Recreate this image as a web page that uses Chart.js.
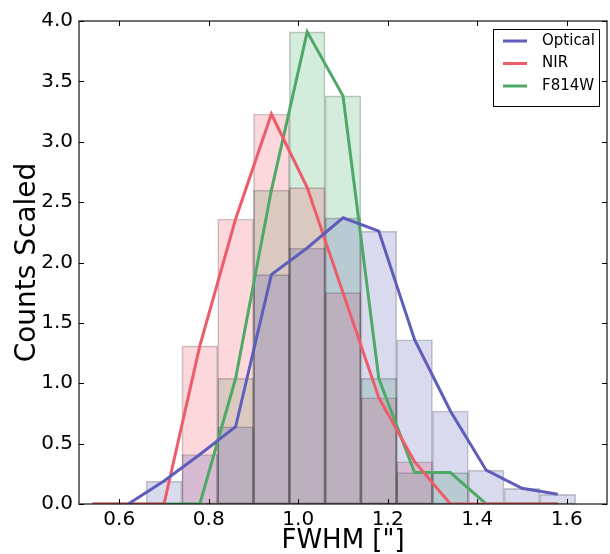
<!DOCTYPE html>
<html>
<head>
<meta charset="utf-8">
<script src="https://cdn.jsdelivr.net/npm/chart.js@4.4.1/dist/chart.umd.min.js"></script>
<style>
  html, body { margin: 0; padding: 0; background: #fff; }
</style>
</head>
<body>
<canvas id="myChart" width="610" height="554"></canvas>
<script>
// histogram bin centres, FWHM ["]
var binCenters = [0.54, 0.62, 0.70, 0.78, 0.86, 0.94, 1.02, 1.10, 1.18, 1.26, 1.34, 1.42, 1.50, 1.58];
// scaled counts per bin
var optical = [null, 0, 0.19, 0.41, 0.64, 1.90, 2.12, 2.37, 2.26, 1.36, 0.77, 0.28, 0.13, 0.08];
var nir     = [0, 0, 0, 1.31, 2.36, 3.23, 2.62, 1.75, 0.88, 0.35, 0, 0, 0, 0];
var f814w   = [0, 0, 0, 0, 1.04, 2.60, 3.91, 3.38, 1.04, 0.26, 0.26, 0, 0, 0];

var xTicks = [0.6, 0.8, 1.0, 1.2, 1.4, 1.6];
var yTicks = [0, 0.5, 1.0, 1.5, 2.0, 2.5, 3.0, 3.5, 4.0];

var blueLine = 'rgb(94,94,186)', blueFill = 'rgba(80,80,180,0.21)';
var redLine = 'rgb(238,92,106)', redFill = 'rgba(240,60,80,0.2)';
var greenLine = 'rgb(78,168,102)', greenFill = 'rgba(40,160,80,0.2)';

function linePts(vals) {
    var out = [];
    binCenters.forEach(function(x, i) {
        if (vals[i] !== null) out.push({x: x, y: vals[i]});
    });
    return out;
}
function barPts(vals) {
    var out = [];
    binCenters.forEach(function(x, i) {
        if (vals[i]) out.push({x: x, y: vals[i]});
    });
    return out;
}

function barSet(vals, fill) {
    return {
        type: 'bar', data: barPts(vals), backgroundColor: fill,
        borderColor: 'rgba(0,0,0,0.22)', borderWidth: 1, borderSkipped: false,
        grouped: false, barPercentage: 1, categoryPercentage: 1, order: 2
    };
}
function lineSet(label, vals, col) {
    return {
        type: 'line', label: label, data: linePts(vals), borderColor: col,
        backgroundColor: col, borderWidth: 3, pointRadius: 0, tension: 0,
        fill: false, order: 1
    };
}

// inward ticks on all four sides + frame, like matplotlib
var frame = {
    id: 'frame',
    afterDraw: function(chart) {
        var c = chart.ctx, a = chart.chartArea;
        var xs = chart.scales.x, ys = chart.scales.y, L = 5;
        c.save();
        c.strokeStyle = '#000';
        c.lineWidth = 1;
        xTicks.forEach(function(v) {
            var px = Math.round(xs.getPixelForValue(v)) + 0.5;
            c.beginPath();
            c.moveTo(px, a.bottom); c.lineTo(px, a.bottom - L);
            c.moveTo(px, a.top); c.lineTo(px, a.top + L);
            c.stroke();
        });
        yTicks.forEach(function(v) {
            var py = Math.round(ys.getPixelForValue(v)) + 0.5;
            c.beginPath();
            c.moveTo(a.left, py); c.lineTo(a.left + L, py);
            c.moveTo(a.right, py); c.lineTo(a.right - L, py);
            c.stroke();
        });
        c.strokeStyle = 'rgba(0,0,0,0.75)';
        c.lineWidth = 1.5;
        c.strokeRect(a.left, a.top, a.right - a.left, a.bottom - a.top);
        c.restore();
    }
};

// legend box in the upper right corner of the plot
var boxLegend = {
    id: 'boxLegend',
    afterDraw: function(chart) {
        var c = chart.ctx, a = chart.chartArea;
        var sets = chart.data.datasets.filter(function(d) { return d.label; });
        var w = 106, h = 77, x0 = a.right - 8 - w, y0 = a.top + 8;
        c.save();
        c.fillStyle = '#fff';
        c.fillRect(x0, y0, w, h);
        c.strokeStyle = '#000';
        c.lineWidth = 1;
        c.strokeRect(x0 + 0.5, y0 + 0.5, w, h);
        c.font = '15px "DejaVu Sans"';
        c.textBaseline = 'middle';
        c.fillStyle = '#000';
        sets.forEach(function(d, i) {
            var y = y0 + 12 + i * 22.5;
            c.strokeStyle = d.borderColor;
            c.lineWidth = 3;
            c.beginPath();
            c.moveTo(x0 + 10, y); c.lineTo(x0 + 34, y);
            c.stroke();
            c.fillText(d.label, x0 + 49, y);
        });
        c.restore();
    }
};

Chart.defaults.font.family = '"DejaVu Sans"';
Chart.defaults.color = '#000';

var ctx = document.getElementById('myChart');
var myChart = new Chart(ctx, {
    type: 'bar',
    data: {
        datasets: [
            barSet(optical, blueFill),
            barSet(nir, redFill),
            barSet(f814w, greenFill),
            lineSet('Optical', optical, blueLine),
            lineSet('NIR', nir, redLine),
            lineSet('F814W', f814w, greenLine)
        ]
    },
    options: {
        responsive: false,
        animation: false,
        layout: { padding: { top: 21, right: 3, left: 0, bottom: 0 } },
        plugins: { legend: { display: false }, tooltip: { enabled: false } },
        scales: {
            x: {
                type: 'linear', min: 0.51, max: 1.69, offset: false,
                grid: { display: false, drawTicks: false },
                border: { display: false },
                afterBuildTicks: function(s) { s.ticks = xTicks.map(function(v) { return {value: v}; }); },
                afterFit: function(s) { s.height = 50; },
                ticks: { font: { size: 20 }, padding: 4, maxRotation: 0,
                    callback: function(v) { return v.toFixed(1); } },
                title: { display: true, text: 'FWHM ["]', font: { size: 26, lineHeight: 1 }, padding: { top: 0, bottom: 0 } }
            },
            y: {
                min: 0, max: 4,
                grid: { display: false, drawTicks: false },
                border: { display: false },
                afterBuildTicks: function(s) { s.ticks = yTicks.map(function(v) { return {value: v}; }); },
                afterFit: function(s) { s.width = 79; },
                ticks: { font: { size: 20 }, padding: 6,
                    callback: function(v) { return v.toFixed(1); } },
                title: { display: true, text: 'Counts Scaled', font: { size: 28, lineHeight: 1 }, padding: { top: 14, bottom: 0 } }
            }
        }
    },
    plugins: [frame, boxLegend]
});
</script>
</body>
</html>
